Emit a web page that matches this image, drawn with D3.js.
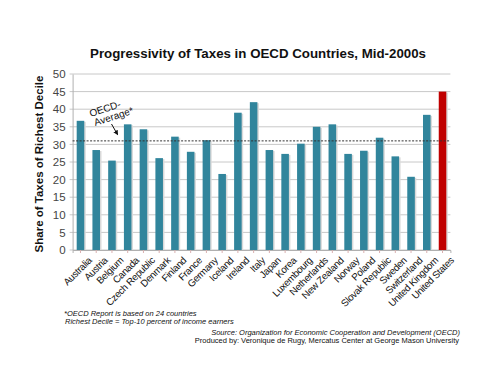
<!DOCTYPE html>
<html>
<head>
<meta charset="utf-8">
<script src="https://cdn.jsdelivr.net/npm/d3@7"></script>
<style>
  body { margin: 0; background: #fff; }
  svg { display: block; font-family: "Liberation Sans", Arial, sans-serif; }
</style>
</head>
<body>
<div class="chart-container"></div>
<script>
const SVG_WIDTH = 500;
const SVG_HEIGHT = 386;

const countries = [
    "Australia", "Austria", "Belgium", "Canada", "Czech Republic", "Denmark",
    "Finland", "France", "Germany", "Iceland", "Ireland", "Italy", "Japan",
    "Korea", "Luxembourg", "Netherlands", "New Zealand", "Norway", "Poland",
    "Slovak Republic", "Sweden", "Switzerland", "United Kingdom", "United States"
];

const shares = [
    36.7, 28.4, 25.4, 35.7, 34.3, 26.1,
    32.2, 27.9, 31.2, 21.6, 39.0, 42.0, 28.4,
    27.3, 30.2, 35.0, 35.7, 27.3, 28.2,
    31.9, 26.6, 20.8, 38.4, 45.0
];

const oecdAverage = 31.0;

const yTicks = [0, 5, 10, 15, 20, 25, 30, 35, 40, 45, 50];

const highlightCountry = "United States";

const margin = { left: 72.6, right: 49.6, top: 74, bottom: 136 };

const svg = d3.select(".chart-container")
    .append("svg")
    .attr("width", SVG_WIDTH)
    .attr("height", SVG_HEIGHT);

const x = d3.scaleBand()
    .domain(countries)
    .range([margin.left, SVG_WIDTH - margin.right])
    .paddingInner(0.52)
    .paddingOuter(0.26);

const y = d3.scaleLinear()
    .domain([0, 50])
    .range([SVG_HEIGHT - margin.bottom, margin.top]);

// title
svg.append("text")
    .attr("x", 258)
    .attr("y", 58)
    .attr("text-anchor", "middle")
    .style("font-size", "13.3px")
    .style("font-weight", "bold")
    .attr("fill", "#111")
    .text("Progressivity of Taxes in OECD Countries, Mid-2000s");

// gridlines
svg.append("g")
    .selectAll("line")
    .data(yTicks)
    .join("line")
    .attr("x1", margin.left - 3)
    .attr("x2", SVG_WIDTH - margin.right)
    .attr("y1", d => y(d))
    .attr("y2", d => y(d))
    .attr("stroke", "#c8c8c8")
    .attr("stroke-width", 1);

// y axis
const yAxis = svg.append("g")
    .attr("transform", `translate(${margin.left},0)`)
    .call(d3.axisLeft(y).tickValues(yTicks).tickSize(0).tickPadding(7));
yAxis.select(".domain").attr("stroke", "#b0b0b0");
yAxis.selectAll("text")
    .style("font-size", "11.5px")
    .style("font-family", "Liberation Sans, Arial, sans-serif")
    .attr("fill", "#444");

svg.append("text")
    .attr("transform", `translate(43,${(y(0) + y(50)) / 2 + 2}) rotate(-90)`)
    .attr("text-anchor", "middle")
    .style("font-size", "11.5px")
    .style("font-weight", "bold")
    .attr("fill", "#111")
    .text("Share of Taxes of Richest Decile");

// bar shadows
svg.append("g")
    .selectAll("rect")
    .data(countries)
    .join("rect")
    .attr("x", (d) => x(d) + 1.5)
    .attr("y", (d, i) => y(shares[i]) + 1)
    .attr("width", x.bandwidth())
    .attr("height", (d, i) => y(0) - y(shares[i]) - 1)
    .attr("fill", "#d9d9d9");

// bars
svg.append("g")
    .selectAll("rect")
    .data(countries)
    .join("rect")
    .attr("x", d => x(d))
    .attr("y", (d, i) => y(shares[i]))
    .attr("width", x.bandwidth())
    .attr("height", (d, i) => y(0) - y(shares[i]))
    .attr("fill", d => d === highlightCountry ? "#c00000" : "#31859c");

// x axis
const xAxis = svg.append("g")
    .attr("transform", `translate(0,${y(0)})`)
    .call(d3.axisBottom(x).tickSize(3).tickPadding(4));
xAxis.select(".domain").attr("stroke", "#b0b0b0");
xAxis.selectAll(".tick line").attr("stroke", "#d8b0b0");
xAxis.selectAll("text")
    .attr("text-anchor", "end")
    .attr("dy", "0.3em")
    .attr("transform", "translate(5,4) rotate(-45)")
    .style("font-size", "9.8px")
    .style("letter-spacing", "-0.3px")
    .style("font-family", "Liberation Sans, Arial, sans-serif")
    .attr("fill", "#111");

// OECD average line
svg.append("line")
    .attr("x1", margin.left)
    .attr("x2", SVG_WIDTH - margin.right)
    .attr("y1", y(oecdAverage))
    .attr("y2", y(oecdAverage))
    .attr("stroke", "#333")
    .attr("stroke-width", 1)
    .attr("stroke-dasharray", "2,1.5");

// annotation
const note = svg.append("g")
    .attr("transform", "translate(106,112) rotate(-18)");
note.append("text")
    .attr("x", 0).attr("y", 0)
    .attr("text-anchor", "middle")
    .style("font-size", "10px")
    .attr("fill", "#111")
    .text("OECD-");
note.append("text")
    .attr("x", 6).attr("y", 10)
    .attr("text-anchor", "middle")
    .style("font-size", "10px")
    .attr("fill", "#111")
    .text("Average*");

svg.append("defs").append("marker")
    .attr("id", "arrow")
    .attr("viewBox", "0 0 10 10")
    .attr("refX", 8).attr("refY", 5)
    .attr("markerWidth", 5).attr("markerHeight", 5)
    .attr("orient", "auto")
    .append("path")
    .attr("d", "M0,0 L10,5 L0,10 z")
    .attr("fill", "#111");

svg.append("line")
    .attr("x1", 111.5).attr("y1", 124)
    .attr("x2", 117.5).attr("y2", 134.5)
    .attr("stroke", "#111")
    .attr("stroke-width", 1)
    .attr("marker-end", "url(#arrow)");

// footnotes
const foot = [
    { t: "*OECD Report is based on 24 countries", x: 64, y: 316, a: "start" },
    { t: "Richest Decile = Top-10 percent of income earners", x: 65, y: 324, a: "start" },
    { t: "Source: Organization for Economic Cooperation and Development (OECD)", x: 460, y: 335, a: "end" },
    { t: "Produced by: Veronique de Rugy, Mercatus Center at George Mason University", x: 459, y: 343, a: "end" }
];
svg.append("g")
    .selectAll("text")
    .data(foot)
    .join("text")
    .attr("x", d => d.x)
    .attr("y", d => d.y)
    .attr("text-anchor", d => d.a)
    .style("font-size", "7.5px")
    .style("font-style", (d, i) => i < 3 ? "italic" : "normal")
    .attr("fill", "#111")
    .text(d => d.t);
</script>
</body>
</html>
